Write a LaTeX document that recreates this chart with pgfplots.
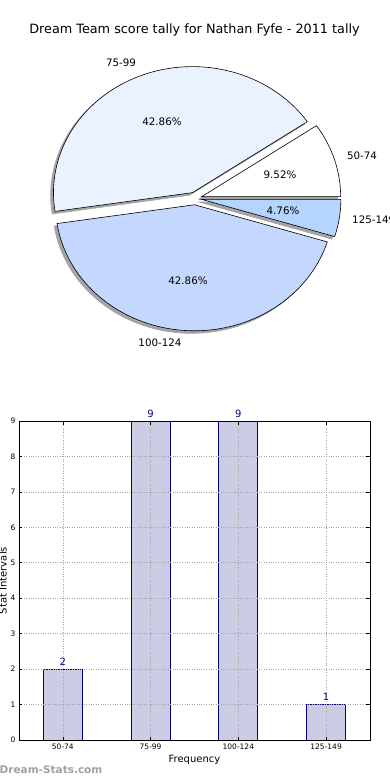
\documentclass[border=0pt]{standalone}
\usepackage{fontspec}
\setmainfont{DejaVu Sans}
\usepackage{pgfplots}
\usepackage{pgfplotstable}
\pgfplotsset{compat=1.18}
\definecolor{wA}{HTML}{FFFFFF}
\definecolor{wB}{HTML}{EBF2FF}
\definecolor{wC}{HTML}{C4D8FF}
\definecolor{wD}{HTML}{B5D4FF}
\definecolor{shad}{HTML}{A4A4A7}
\definecolor{barfill}{HTML}{CCCCE5}
\definecolor{navy}{HTML}{000080}
\definecolor{wmark}{HTML}{A0A0A0}

\pgfplotstableread{
x label value
0 50-74 2
1 75-99 9
2 100-124 9
3 125-149 1
}\datatable

\newcommand\piewedge[5]{\filldraw[#5] (axis cs:#1,#2) -- ++(#3:139pt and 126pt) arc[start angle=#3, end angle=#4, x radius=139pt, y radius=126pt] -- cycle;}

\begin{document}%
\begin{tikzpicture}
\pgfplotstablegetelem{0}{value}\of\datatable \let\vA\pgfplotsretval
\pgfplotstablegetelem{1}{value}\of\datatable \let\vB\pgfplotsretval
\pgfplotstablegetelem{2}{value}\of\datatable \let\vC\pgfplotsretval
\pgfplotstablegetelem{3}{value}\of\datatable \let\vD\pgfplotsretval
\pgfmathsetmacro\tot{\vA+\vB+\vC+\vD}
\pgfmathsetmacro\aA{360*\vA/\tot}
\pgfmathsetmacro\aB{360*(\vA+\vB)/\tot}
\pgfmathsetmacro\aC{360*(\vA+\vB+\vC)/\tot}
\pgfmathsetmacro\mA{\aA/2}
\pgfmathsetmacro\mB{(\aA+\aB)/2}
\pgfmathsetmacro\mC{(\aB+\aC)/2}
\pgfmathsetmacro\mD{(\aC+360)/2}
\pgfmathsetmacro\xA{0.05*cos(\mA)}\pgfmathsetmacro\yA{0.05*sin(\mA)}
\pgfmathsetmacro\xB{0.05*cos(\mB)}\pgfmathsetmacro\yB{0.05*sin(\mB)}
\pgfmathsetmacro\xC{0.05*cos(\mC)}\pgfmathsetmacro\yC{0.05*sin(\mC)}
\pgfmathsetmacro\xD{0.05*cos(\mD)}\pgfmathsetmacro\yD{0.05*sin(\mD)}
\pgfmathsetmacro\sxA{\xA-0.02}\pgfmathsetmacro\syA{\yA-0.02}
\pgfmathsetmacro\sxB{\xB-0.02}\pgfmathsetmacro\syB{\yB-0.02}
\pgfmathsetmacro\sxC{\xC-0.02}\pgfmathsetmacro\syC{\yC-0.02}
\pgfmathsetmacro\sxD{\xD-0.02}\pgfmathsetmacro\syD{\yD-0.02}
% ---------------- pie ----------------
\begin{axis}[x=139pt, y=126pt, hide axis, clip=false,
  xmin=-1.2, xmax=1.2, ymin=-1.2, ymax=1.2,
  anchor=center, at={(195pt,581.5pt)}]
\piewedge{\sxA}{\syA}{0}{\aA}{fill=shad, draw=shad, line width=0.7pt}
\piewedge{\sxB}{\syB}{\aA}{\aB}{fill=shad, draw=shad, line width=0.7pt}
\piewedge{\sxC}{\syC}{\aB}{\aC}{fill=shad, draw=shad, line width=0.7pt}
\piewedge{\sxD}{\syD}{\aC}{360}{fill=shad, draw=shad, line width=0.7pt}
\piewedge{\xA}{\yA}{0}{\aA}{fill=wA, draw=black, line width=0.6pt}
\piewedge{\xB}{\yB}{\aA}{\aB}{fill=wB, draw=black, line width=0.6pt}
\piewedge{\xC}{\yC}{\aB}{\aC}{fill=wC, draw=black, line width=0.6pt}
\piewedge{\xD}{\yD}{\aC}{360}{fill=wD, draw=black, line width=0.6pt}
\end{axis}
\node[font=\fontsize{12.8}{15}\selectfont] at (194.5pt,750pt) {Dream Team score tally for Nathan Fyfe - 2011 tally};
\begin{scope}[every node/.style={font=\fontsize{10.3}{12}\selectfont, inner sep=0pt}]
\node at (121pt,717pt) {75-99};
\node at (162pt,658pt) {42.86\%};
\node at (362pt,624pt) {50-74};
\node at (280pt,605pt) {9.52\%};
\node at (283pt,569pt) {4.76\%};
\node[anchor=west] at (352pt,560pt) {125-149};
\node at (188pt,499pt) {42.86\%};
\node at (160pt,437pt) {100-124};
\end{scope}
% ---------------- bars ----------------
\begin{axis}[at={(19pt,40pt)}, anchor=south west, scale only axis,
  width=351pt, height=319pt, clip=false, axis on top,
  xmin=-0.5, xmax=3.5, ymin=0, ymax=9,
  xtick={0,1,2,3}, xticklabels={50-74,75-99,100-124,125-149},
  ytick={0,1,...,9},
  tick align=inside, tick pos=both, major tick length=3.5pt,
  tick style={black, line width=0.6pt},
  axis line style={line width=0.8pt},
  grid=major, grid style={dotted, gray!70, line width=0.7pt},
  ticklabel style={font=\fontsize{7.5}{9}\selectfont},
  /pgf/number format/assume math mode=true,
  xlabel={Frequency}, ylabel={Stat Intervals},
  label style={font=\fontsize{10}{12}\selectfont},
  xlabel style={at={(axis description cs:0.5,-0.0627)}, anchor=center},
  ylabel style={at={(axis description cs:-0.0456,0.5)}, anchor=center},
]
\addplot[ybar, bar width=39pt, fill=barfill, draw=navy, line width=0.8pt,
  nodes near coords,
  every node near coord/.append style={font=\fontsize{10}{12}\selectfont, text=navy, anchor=south, yshift=0pt}]
  table[x=x, y=value]{\datatable};
\end{axis}
\node[anchor=west, font=\bfseries\fontsize{10.5}{12}\selectfont, text=wmark, inner sep=0pt] at (-0.5pt,10pt) {Dream-Stats.com};
\pgfresetboundingbox
\useasboundingbox (0,0) rectangle (390pt,780pt);
\end{tikzpicture}%
\end{document}
